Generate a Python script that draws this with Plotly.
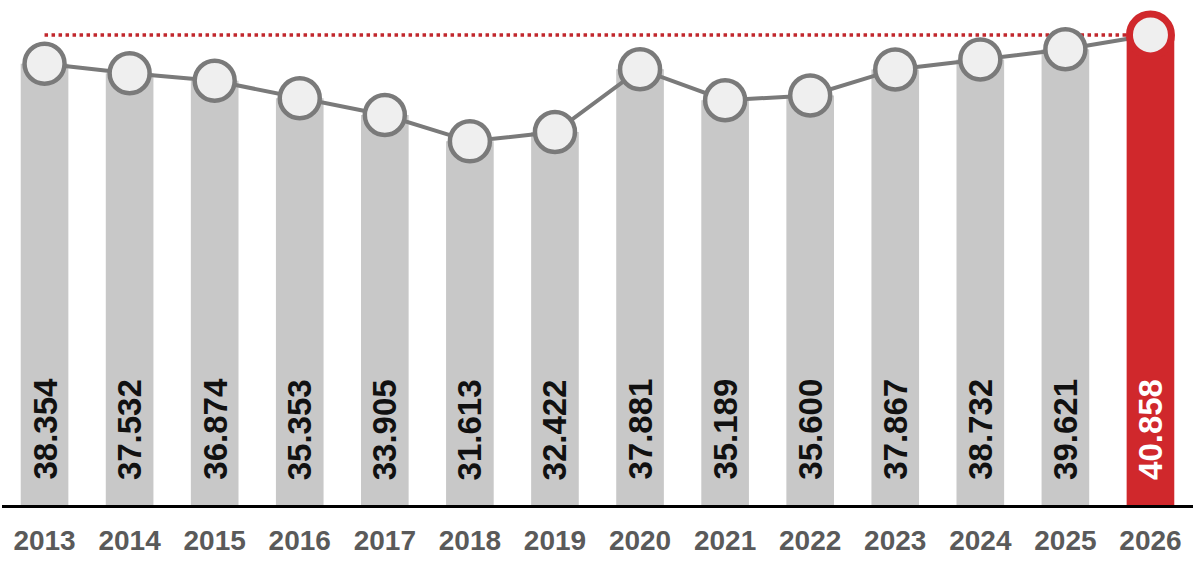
import plotly.graph_objects as go

# dados
anos = [2013, 2014, 2015, 2016, 2017, 2018, 2019,
        2020, 2021, 2022, 2023, 2024, 2025, 2026]
valores = [38.354, 37.532, 36.874, 35.353, 33.905, 31.613, 32.422,
           37.881, 35.189, 35.600, 37.867, 38.732, 39.621, 40.858]
rotulos = ['38.354', '37.532', '36.874', '35.353', '33.905', '31.613', '32.422',
           '37.881', '35.189', '35.600', '37.867', '38.732', '39.621', '40.858']

CINZA = '#c8c8c8'
VERMELHO = '#d0282c'
LINHA = '#7a7a7a'

cores_barras = [CINZA] * (len(anos) - 1) + [VERMELHO]
cores_borda = [LINHA] * (len(anos) - 1) + [VERMELHO]
larg_borda = [4.5] * (len(anos) - 1) + [7]
tam_marc = [40] * (len(anos) - 1) + [42]

fig = go.Figure()

fig.add_trace(go.Bar(
    x=anos, y=valores,
    marker=dict(color=cores_barras, line=dict(width=0)),
    width=0.56,
    hoverinfo='skip'
))

fig.add_trace(go.Scatter(
    x=anos, y=valores,
    mode='lines+markers',
    line=dict(color=LINHA, width=4),
    marker=dict(size=tam_marc, color='#efefef', opacity=1,
                line=dict(color=cores_borda, width=larg_borda)),
    hoverinfo='skip'
))

# linha pontilhada no nivel de 2026
fig.add_shape(type='line', xref='x', yref='y',
              x0=anos[0], x1=anos[-1], y0=valores[-1], y1=valores[-1],
              line=dict(color='#c1272d', width=3.5, dash='dot'),
              layer='below')

# valores dentro das barras
for i, (a, r) in enumerate(zip(anos, rotulos)):
    fig.add_annotation(
        x=a, y=0, text='<b>' + r + '</b>',
        textangle=-90, showarrow=False,
        xanchor='center', yanchor='bottom', yshift=23,
        font=dict(family='Liberation Sans, Arial', size=33,
                  color='white' if i == len(anos) - 1 else '#111111')
    )

fig.update_layout(
    width=1200, height=576,
    margin=dict(l=2, r=7, t=0, b=71, autoexpand=False),
    paper_bgcolor='white', plot_bgcolor='white',
    showlegend=False,
    font=dict(family='Liberation Sans, Arial')
)
fig.update_xaxes(
    range=[anos[0] - 0.5, anos[-1] + 0.5], tickmode='array', tickvals=anos,
    automargin=False,
    showline=True, linecolor='black', linewidth=3, zeroline=False,
    showgrid=False, ticks='outside', ticklen=8, tickcolor='rgba(0,0,0,0)',
    tickfont=dict(size=28, color='#5a5a5a', family='Liberation Sans, Arial',
                  weight='bold')
)
fig.update_yaxes(range=[0, 43.9], visible=False, showgrid=False,
                 automargin=False)

# tira a margem padrao do body para o grafico ocupar a janela toda
fig.write_html('out.html',
               config={'displayModeBar': False},
               post_script="document.body.style.margin='0';")
